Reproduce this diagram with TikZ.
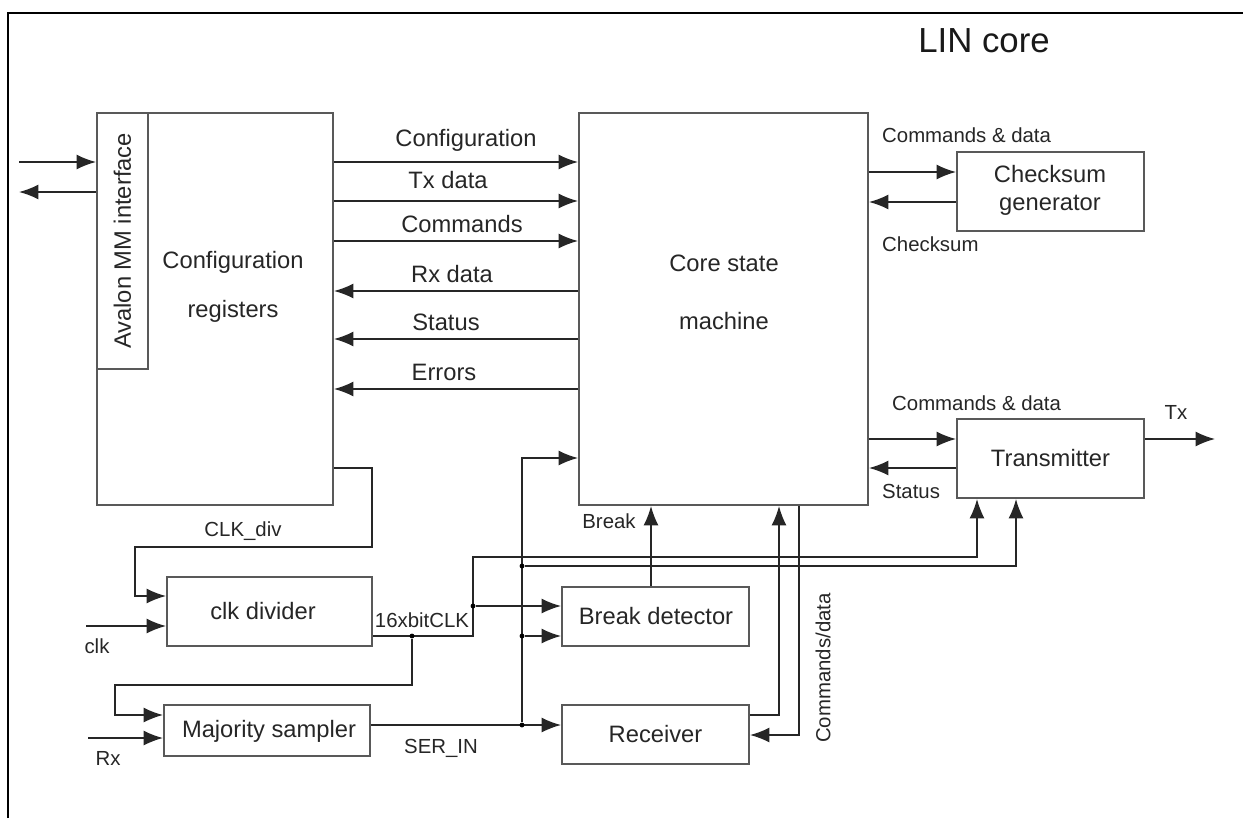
\documentclass[tikz,border=0pt]{standalone}
\usepackage{fontspec}
\setmainfont{Liberation Sans}
\usetikzlibrary{arrows.meta,fit}
\tikzset{
  blk/.style={draw=black!65, line width=1.1pt, inner sep=0pt},
  wire/.style={draw=black!85, line width=0.9pt},
  arr/.style={wire, -{Latex[length=11pt,width=8.5pt]}},
  big/.style={font=\fontsize{13.5}{16}\selectfont, text=black!85},
  small/.style={font=\fontsize{11.6}{14}\selectfont, text=black!85},
  junction/.style={circle, fill=black, inner sep=0pt, minimum size=2.8pt}
}
\begin{document}
\begin{tikzpicture}[x=0.02cm, y=-0.02cm]
  \useasboundingbox (0,0) rectangle (1243,818);

  % Рамка и заголовок
  \draw[line width=1.2pt] (8,818) -- (8,13) -- (1243,13);
  \node[font=\fontsize{19.8}{24}\selectfont, text=black!90] (title) at (984,41) {LIN core};

  % Блоки
  \node[blk, fit={(97,113) (333,505)}] (cfg) {};
  \node[blk, fit={(97,113) (148,369)}] (avalon) {};
  \node[big, rotate=90] (avalontxt) at (avalon.center) {Avalon MM interface};
  \node[big, align=center, font=\fontsize{13.5}{28.3}\selectfont] (cfgtxt) at (233,287) {Configuration\\registers};
  \node[blk, fit={(579,113) (868,505)}] (core) {};
  \node[big, align=center, font=\fontsize{13.5}{32.9}\selectfont] (coretxt) at (724,292) {Core state\\machine};
  \node[blk, fit={(957,152) (1144,231)}] (chk) {};
  \node[big, align=center, font=\fontsize{13.5}{15.9}\selectfont] (chktxt) at (1050,190) {Checksum\\generator};
  \node[blk, fit={(957,419) (1144,498)}] (tx) {};
  \node[big] (txtxt) at (tx.center) {Transmitter};
  \node[blk, fit={(167,577) (372,646)}] (clkdiv) {};
  \node[big] (clkdivtxt) at (263,611) {clk divider};
  \node[blk, fit={(164,705) (370,756)}] (maj) {};
  \node[big] (majtxt) at (269,731) {Majority sampler};
  \node[blk, fit={(562,587) (749,646)}] (brk) {};
  \node[big] (brktxt) at (656,616) {Break detector};
  \node[blk, fit={(562,705) (749,764)}] (rcv) {};
  \node[big] (rcvtxt) at (rcv.center) {Receiver};

  % Внешние выводы
  \coordinate (busin) at (19,162);
  \coordinate (busout) at (19,192);
  \coordinate (clkin) at (86,626);
  \coordinate (rxin) at (88,738);
  \coordinate (txout) at (1215,439);

  % Шина Avalon
  \draw[arr] (busin) -- (avalon.west |- busin);
  \draw[arr] (avalon.west |- busout) -- (busout);

  % Регистры <-> автомат
  \draw[arr] (cfg.east |- 0,162) -- (core.west |- 0,162);
  \draw[arr] (cfg.east |- 0,201) -- (core.west |- 0,201);
  \draw[arr] (cfg.east |- 0,241) -- (core.west |- 0,241);
  \draw[arr] (core.west |- 0,291) -- (cfg.east |- 0,291);
  \draw[arr] (core.west |- 0,339) -- (cfg.east |- 0,339);
  \draw[arr] (core.west |- 0,389) -- (cfg.east |- 0,389);
  \node[big] (lconf) at (466,140) {Configuration};
  \node[big] (ltxd) at (448,180) {Tx data};
  \node[big] (lcmd) at (462,224) {Commands};
  \node[big] (lrxd) at (452,274) {Rx data};
  \node[big] (lstat) at (446,322) {Status};
  \node[big] (lerr) at (444,372) {Errors};

  % Автомат <-> контрольная сумма и передатчик
  \draw[arr] (core.east |- 0,172) -- (chk.west |- 0,172);
  \draw[arr] (chk.west |- 0,202) -- (core.east |- 0,202);
  \draw[arr] (core.east |- 0,439) -- (tx.west |- 0,439);
  \draw[arr] (tx.west |- 0,468) -- (core.east |- 0,468);
  \draw[arr] (tx.east |- txout) -- (txout);
  \node[small, anchor=west] (lcd1) at (876,135) {Commands \& data};
  \node[small, anchor=west] (lchk) at (876,244) {Checksum};
  \node[small, anchor=west] (lcd2) at (886,403) {Commands \& data};
  \node[small, anchor=west] (ltxst) at (876,491) {Status};
  \node[small] (ltx) at (1176,412) {Tx};

  % Тактирование
  \draw[arr] (cfg.east |- 0,468) -| (372,547) -| (135,596) -- (clkdiv.west |- 0,596);
  \draw[arr] (clkin) -- (clkdiv.west |- clkin);
  \draw[arr] (clkdiv.east |- 0,636) -| (473,557) -| (tx.south -| 977,0);
  \node[junction] (j1) at (473,606) {};
  \draw[arr] (j1) -- (brk.west |- j1);
  \node[junction] (j2) at (412,636) {};
  \draw[arr] (j2) -- (412,685) -| (115,715) -- (maj.west |- 0,715);
  \node[small] (lclkdiv) at (243,531) {CLK\_div};
  \node[small] (lclk) at (97,646) {clk};
  \node[small] (l16x) at (422,620) {16xbitCLK};

  % Приём
  \draw[arr] (rxin) -- (maj.west |- rxin);
  \draw[arr] (maj.east |- 0,725) -- (rcv.west |- 0,725);
  \node[junction] (j3) at (522,725) {};
  \draw[arr] (j3) -- (522,458) -- (core.west |- 0,458);
  \node[junction] (j4) at (522,566) {};
  \draw[arr] (j4) -| (tx.south -| 1016,0);
  \node[junction] (j5) at (522,636) {};
  \draw[arr] (j5) -- (brk.west |- j5);
  \node[small] (lrx) at (108,758) {Rx};
  \node[small] (lser) at (441,748) {SER\_IN};

  % Break и приёмник <-> автомат
  \draw[arr] (brk.north -| 651,0) -- (core.south -| 651,0);
  \draw[arr] (rcv.east |- 0,715) -| (core.south -| 779,0);
  \draw[arr] (core.south -| 799,0) |- (rcv.east |- 0,735);
  \node[small] (lbrk) at (609,521) {Break};
  \node[small, rotate=90] (lcmdd) at (823,668) {Commands/data};

\end{tikzpicture}
\end{document}
